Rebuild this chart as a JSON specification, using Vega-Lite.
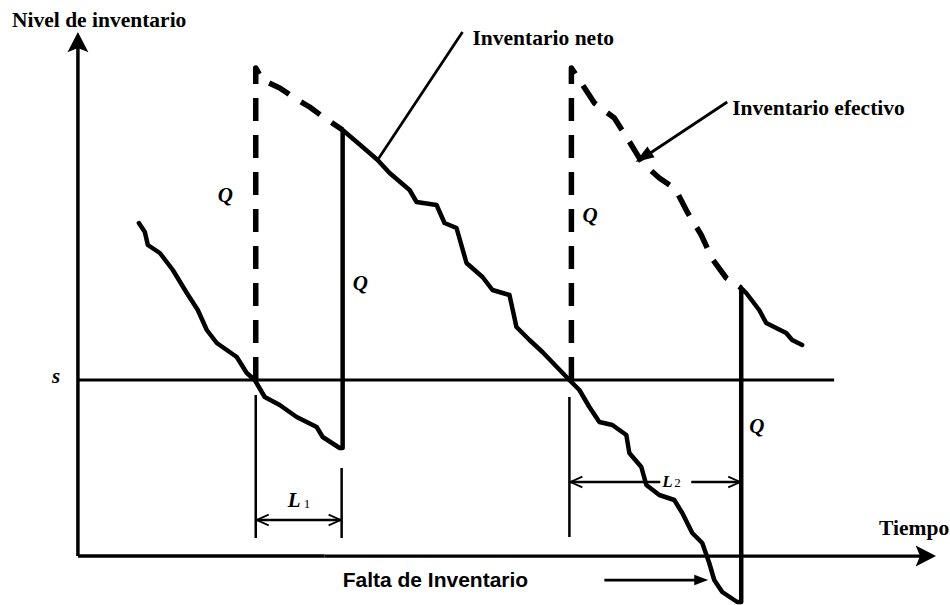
{
  "$schema": "https://vega.github.io/schema/vega-lite/v6.json",
  "width": 950,
  "height": 605,
  "autosize": {"type": "fit", "contains": "padding"},
  "padding": 0,
  "background": "white",
  "view": {"stroke": null},
  "config": {"axis": null},
  "datasets": {
    "neto": [
      {"k": 1, "t": 13.9, "n": 38.2}, {"k": 2, "t": 14.5, "n": 37.3}, {"k": 3, "t": 14.8, "n": 36.0},
      {"k": 4, "t": 16.0, "n": 35.2}, {"k": 5, "t": 17.3, "n": 33.5}, {"k": 6, "t": 18.7, "n": 31.2},
      {"k": 7, "t": 19.8, "n": 29.5}, {"k": 8, "t": 20.7, "n": 27.5}, {"k": 9, "t": 21.7, "n": 26.2},
      {"k": 10, "t": 22.7, "n": 25.5}, {"k": 11, "t": 23.7, "n": 24.8}, {"k": 12, "t": 24.7, "n": 23.2},
      {"k": 13, "t": 25.5, "n": 22.5}, {"k": 14, "t": 26.5, "n": 20.8}, {"k": 15, "t": 28.0, "n": 20.0},
      {"k": 16, "t": 29.7, "n": 18.8}, {"k": 17, "t": 31.7, "n": 17.8}, {"k": 18, "t": 32.3, "n": 16.8},
      {"k": 19, "t": 34.0, "n": 15.7}, {"k": 20, "t": 34.3, "n": 15.7}, {"k": 21, "t": 34.3, "n": 47.5},
      {"k": 22, "t": 36.3, "n": 45.8}, {"k": 23, "t": 37.8, "n": 44.5}, {"k": 24, "t": 39.0, "n": 43.2},
      {"k": 25, "t": 41.0, "n": 41.5}, {"k": 26, "t": 41.7, "n": 40.3}, {"k": 27, "t": 43.7, "n": 40.0},
      {"k": 28, "t": 44.5, "n": 38.2}, {"k": 29, "t": 45.7, "n": 37.7}, {"k": 30, "t": 46.7, "n": 34.2},
      {"k": 31, "t": 48.3, "n": 32.8}, {"k": 32, "t": 49.3, "n": 31.5}, {"k": 33, "t": 51.0, "n": 31.0},
      {"k": 34, "t": 51.7, "n": 27.8}, {"k": 35, "t": 53.0, "n": 26.5}, {"k": 36, "t": 54.3, "n": 25.3},
      {"k": 37, "t": 57.0, "n": 22.5}, {"k": 38, "t": 58.0, "n": 21.5}, {"k": 39, "t": 59.0, "n": 19.8},
      {"k": 40, "t": 60.0, "n": 18.3}, {"k": 41, "t": 61.3, "n": 18.0}, {"k": 42, "t": 62.7, "n": 17.0},
      {"k": 43, "t": 63.0, "n": 15.2}, {"k": 44, "t": 64.2, "n": 13.8}, {"k": 45, "t": 64.7, "n": 12.0},
      {"k": 46, "t": 66.0, "n": 11.0}, {"k": 47, "t": 67.5, "n": 10.5}, {"k": 48, "t": 68.3, "n": 9.2},
      {"k": 49, "t": 69.3, "n": 7.2}, {"k": 50, "t": 70.3, "n": 6.2}, {"k": 51, "t": 71.0, "n": 4.2},
      {"k": 52, "t": 71.5, "n": 2.5}, {"k": 53, "t": 72.3, "n": 1.3}, {"k": 54, "t": 73.8, "n": 0.3},
      {"k": 55, "t": 74.2, "n": 0.3}, {"k": 56, "t": 74.2, "n": 31.7}, {"k": 57, "t": 74.7, "n": 31.2},
      {"k": 58, "t": 76.0, "n": 29.5}, {"k": 59, "t": 76.7, "n": 28.2}, {"k": 60, "t": 78.7, "n": 27.2},
      {"k": 61, "t": 79.3, "n": 26.5}, {"k": 62, "t": 80.3, "n": 26.0}
    ],
    "efectivo": [
      {"g": "1", "k": 1, "t": 25.6, "n": 22.5}, {"g": "1", "k": 2, "t": 25.6, "n": 53.7},
      {"g": "1", "k": 3, "t": 26.3, "n": 52.5}, {"g": "1", "k": 4, "t": 28.0, "n": 51.7},
      {"g": "1", "k": 5, "t": 29.5, "n": 50.7}, {"g": "1", "k": 6, "t": 31.0, "n": 49.8},
      {"g": "1", "k": 7, "t": 32.5, "n": 48.7}, {"g": "1", "k": 8, "t": 34.3, "n": 47.5},
      {"g": "2", "k": 1, "t": 57.2, "n": 22.5}, {"g": "2", "k": 2, "t": 57.2, "n": 53.7},
      {"g": "2", "k": 3, "t": 58.0, "n": 52.5}, {"g": "2", "k": 4, "t": 59.5, "n": 50.2},
      {"g": "2", "k": 5, "t": 61.5, "n": 48.7}, {"g": "2", "k": 6, "t": 62.9, "n": 46.5},
      {"g": "2", "k": 7, "t": 64.3, "n": 44.2}, {"g": "2", "k": 8, "t": 66.0, "n": 42.7},
      {"g": "2", "k": 9, "t": 67.6, "n": 41.6}, {"g": "2", "k": 10, "t": 68.8, "n": 39.3},
      {"g": "2", "k": 11, "t": 70.2, "n": 37.0}, {"g": "2", "k": 12, "t": 71.3, "n": 34.6},
      {"g": "2", "k": 13, "t": 72.7, "n": 32.7}, {"g": "2", "k": 14, "t": 74.2, "n": 31.7}
    ],
    "trazos": [
      {"tipo": "eje", "t": 7.8, "n": 4.9, "t2": 7.8, "n2": 56.0},
      {"tipo": "eje", "t": 7.8, "n": 4.9, "t2": 32.5, "n2": 4.9},
      {"tipo": "eje fino", "t": 32.5, "n": 4.9, "t2": 92.5, "n2": 4.9},
      {"tipo": "s", "t": 7.8, "n": 22.5, "t2": 83.5, "n2": 22.5},
      {"tipo": "guía", "t": 46.3, "n": 57.3, "t2": 37.8, "n2": 44.5},
      {"tipo": "guía", "t": 72.8, "n": 50.3, "t2": 64.5, "n2": 44.8},
      {"tipo": "guía", "t": 60.5, "n": 2.5, "t2": 70.0, "n2": 2.5},
      {"tipo": "cota", "t": 25.6, "n": 21.0, "t2": 25.6, "n2": 6.7},
      {"tipo": "cota", "t": 34.2, "n": 13.7, "t2": 34.2, "n2": 6.7},
      {"tipo": "cota", "t": 25.6, "n": 8.5, "t2": 34.2, "n2": 8.5},
      {"tipo": "cota", "t": 57.0, "n": 20.8, "t2": 57.0, "n2": 6.8},
      {"tipo": "cota", "t": 57.0, "n": 12.3, "t2": 66.1, "n2": 12.3},
      {"tipo": "cota", "t": 69.2, "n": 12.3, "t2": 74.2, "n2": 12.3}
    ],
    "puntas": [
      {"tipo": "eje", "t": 7.8, "n": 56.2, "rumbo": 0},
      {"tipo": "eje", "t": 92.6, "n": 4.9, "rumbo": 90},
      {"tipo": "efectivo", "t": 64.4, "n": 44.8, "rumbo": 236.6},
      {"tipo": "falta", "t": 70.2, "n": 2.5, "rumbo": 90},
      {"tipo": "cota", "t": 26.3, "n": 8.5, "rumbo": 270},
      {"tipo": "cota", "t": 33.5, "n": 8.5, "rumbo": 90},
      {"tipo": "cota", "t": 57.7, "n": 12.3, "rumbo": 270},
      {"tipo": "cota", "t": 73.5, "n": 12.3, "rumbo": 90}
    ],
    "textos": [
      {"clase": "titulo", "texto": "Nivel de inventario", "t": 1.2, "n": 57.8},
      {"clase": "titulo", "texto": "Inventario neto", "t": 47.3, "n": 56.0},
      {"clase": "titulo", "texto": "Inventario efectivo", "t": 73.3, "n": 49.0},
      {"clase": "titulo", "texto": "Tiempo", "t": 88.0, "n": 7.0},
      {"clase": "falta", "texto": "Falta de Inventario", "t": 34.3, "n": 1.8},
      {"clase": "var", "texto": "Q", "t": 21.8, "n": 40.3},
      {"clase": "var", "texto": "Q", "t": 35.3, "n": 31.5},
      {"clase": "var", "texto": "Q", "t": 58.3, "n": 38.3},
      {"clase": "var", "texto": "Q", "t": 75.0, "n": 17.2},
      {"clase": "var", "texto": "L", "t": 28.8, "n": 9.8},
      {"clase": "var", "texto": "s", "t": 5.2, "n": 22.2},
      {"clase": "var chico", "texto": "L", "t": 66.3, "n": 11.8},
      {"clase": "sub", "texto": "1", "t": 30.4, "n": 9.7},
      {"clase": "sub", "texto": "2", "t": 67.5, "n": 11.8}
    ]
  },
  "encoding": {
    "x": {"field": "t", "type": "quantitative", "scale": {"domain": [0, 95], "nice": false, "zero": false}, "axis": null},
    "y": {"field": "n", "type": "quantitative", "scale": {"domain": [0, 60.5], "nice": false, "zero": false}, "axis": null}
  },
  "layer": [
    {
      "data": {"name": "trazos"},
      "mark": {"type": "rule", "color": "black", "strokeCap": "butt"},
      "encoding": {
        "x2": {"field": "t2"},
        "y2": {"field": "n2"},
        "strokeWidth": {"field": "tipo", "type": "nominal", "legend": null,
          "scale": {"domain": ["eje", "eje fino", "s", "guía", "cota"], "range": [3.5, 2.5, 2.5, 1.8, 1.6]}}
      }
    },
    {
      "data": {"name": "efectivo"},
      "mark": {"type": "line", "color": "black", "strokeWidth": 5.5, "strokeDash": [23, 14], "strokeCap": "butt", "strokeJoin": "round"},
      "encoding": {
        "detail": {"field": "g", "type": "nominal"},
        "order": {"field": "k", "type": "quantitative"}
      }
    },
    {
      "data": {"name": "neto"},
      "mark": {"type": "line", "color": "black", "strokeWidth": 4.5, "strokeJoin": "round", "strokeCap": "round"},
      "encoding": {
        "order": {"field": "k", "type": "quantitative"}
      }
    },
    {
      "data": {"name": "puntas"},
      "transform": [{"filter": "datum.tipo !== 'cota'"}],
      "mark": {"type": "point", "filled": true, "color": "black", "opacity": 1, "strokeWidth": 0},
      "encoding": {
        "shape": {"field": "tipo", "type": "nominal", "legend": null,
          "scale": {"domain": ["eje", "efectivo", "falta"], "range": ["M0,-1L0.95,0.85L0,0.45L-0.95,0.85Z", "M0,-1L0.7,1L-0.7,1Z", "M0,-1L0.75,1L-0.75,1Z"]}},
        "size": {"field": "tipo", "type": "nominal", "legend": null,
          "scale": {"domain": ["eje", "efectivo", "falta"], "range": [484, 196, 400]}},
        "angle": {"field": "rumbo", "type": "quantitative", "scale": {"domain": [0, 360], "range": [0, 360]}}
      }
    },
    {
      "data": {"name": "puntas"},
      "transform": [{"filter": "datum.tipo === 'cota'"}],
      "mark": {"type": "point", "filled": false, "color": "black", "opacity": 1, "strokeWidth": 1.8, "shape": "M-0.9,1L0,-1L0.9,1", "size": 144},
      "encoding": {
        "angle": {"field": "rumbo", "type": "quantitative", "scale": {"domain": [0, 360], "range": [0, 360]}}
      }
    },
    {
      "data": {"name": "textos"},
      "transform": [{"filter": "datum.clase === 'titulo'"}],
      "mark": {"type": "text", "align": "left", "baseline": "alphabetic", "font": "Liberation Serif", "fontWeight": "bold", "fontSize": 21.5, "color": "black"},
      "encoding": {"text": {"field": "texto"}}
    },
    {
      "data": {"name": "textos"},
      "transform": [{"filter": "datum.clase === 'falta'"}],
      "mark": {"type": "text", "align": "left", "baseline": "alphabetic", "font": "Liberation Sans", "fontWeight": "bold", "fontSize": 21, "color": "black"},
      "encoding": {"text": {"field": "texto"}}
    },
    {
      "data": {"name": "textos"},
      "transform": [{"filter": "datum.clase === 'var'"}],
      "mark": {"type": "text", "align": "left", "baseline": "alphabetic", "font": "Liberation Serif", "fontStyle": "italic", "fontWeight": "bold", "fontSize": 21, "color": "black"},
      "encoding": {"text": {"field": "texto"}}
    },
    {
      "data": {"name": "textos"},
      "transform": [{"filter": "datum.clase === 'var chico'"}],
      "mark": {"type": "text", "align": "left", "baseline": "alphabetic", "font": "Liberation Serif", "fontStyle": "italic", "fontWeight": "bold", "fontSize": 17, "color": "black"},
      "encoding": {"text": {"field": "texto"}}
    },
    {
      "data": {"name": "textos"},
      "transform": [{"filter": "datum.clase === 'sub'"}],
      "mark": {"type": "text", "align": "left", "baseline": "alphabetic", "font": "Liberation Serif", "fontSize": 13, "color": "black"},
      "encoding": {"text": {"field": "texto"}}
    }
  ]
}
